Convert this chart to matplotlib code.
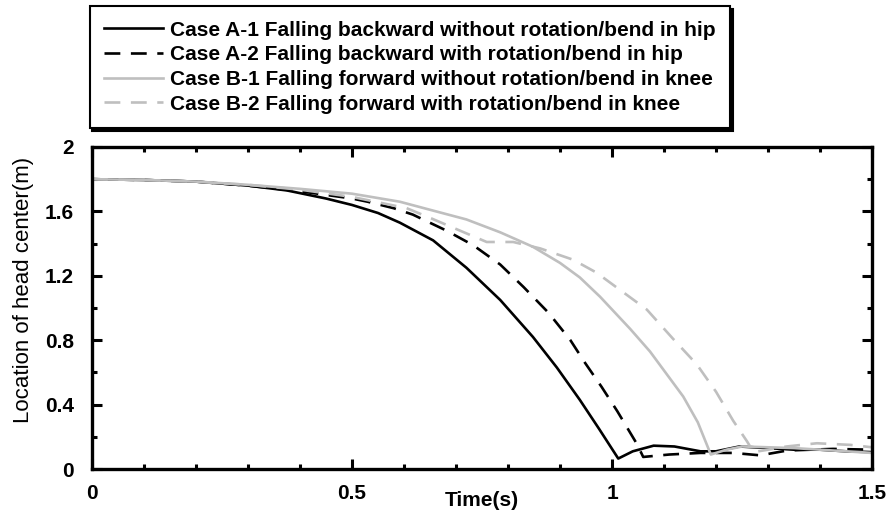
import matplotlib
matplotlib.use("Agg")
import matplotlib.pyplot as plt
from matplotlib.ticker import MultipleLocator

plt.rcParams['font.family'] = ['Liberation Sans', 'DejaVu Sans']

# Case A-1: falling backward without rotation/bend in hip
t_a1 = [0, 0.1, 0.2, 0.3, 0.375, 0.45, 0.5, 0.55, 0.592, 0.656, 0.72, 0.785,
        0.848, 0.894, 0.938, 0.975, 1.012, 1.04, 1.08, 1.12, 1.17, 1.2, 1.245,
        1.3, 1.35, 1.4, 1.45, 1.5]
y_a1 = [1.80, 1.795, 1.785, 1.76, 1.73, 1.68, 1.64, 1.59, 1.53, 1.42, 1.25, 1.05,
        0.82, 0.63, 0.43, 0.25, 0.065, 0.11, 0.145, 0.14, 0.11, 0.11, 0.14,
        0.13, 0.12, 0.12, 0.11, 0.105]

# Case A-2: falling backward with rotation/bend in hip
t_a2 = [0, 0.1, 0.2, 0.3, 0.4, 0.5, 0.53, 0.58, 0.617, 0.682, 0.733, 0.785, 0.83,
        0.878, 0.92, 0.948, 0.98, 1.01, 1.048, 1.06, 1.11, 1.17, 1.233, 1.285,
        1.337, 1.425, 1.5]
y_a2 = [1.80, 1.795, 1.785, 1.76, 1.725, 1.68, 1.66, 1.62, 1.58, 1.48, 1.39, 1.27,
        1.13, 0.97, 0.80, 0.66, 0.51, 0.36, 0.155, 0.075, 0.09, 0.10, 0.10, 0.085,
        0.115, 0.125, 0.12]

# Case B-1: falling forward without rotation/bend in knee
t_b1 = [0, 0.1, 0.2, 0.3, 0.4, 0.5, 0.592, 0.65, 0.72, 0.785, 0.848, 0.9, 0.938,
        0.977, 1.035, 1.073, 1.137, 1.165, 1.19, 1.22, 1.25, 1.3, 1.35, 1.4,
        1.45, 1.5]
y_b1 = [1.80, 1.795, 1.785, 1.765, 1.74, 1.71, 1.66, 1.61, 1.55, 1.47, 1.38, 1.28,
        1.19, 1.07, 0.87, 0.73, 0.45, 0.29, 0.09, 0.12, 0.14, 0.135, 0.13, 0.12,
        0.11, 0.10]

# Case B-2: falling forward with rotation/bend in knee
t_b2 = [0, 0.1, 0.2, 0.3, 0.4, 0.5, 0.605, 0.65, 0.708, 0.759, 0.81, 0.862, 0.925,
        0.97, 1.067, 1.117, 1.163, 1.2, 1.233, 1.26, 1.272, 1.3, 1.336, 1.394,
        1.458, 1.5]
y_b2 = [1.80, 1.795, 1.785, 1.765, 1.735, 1.69, 1.62, 1.56, 1.48, 1.41, 1.41, 1.37,
        1.30, 1.22, 0.99, 0.81, 0.65, 0.48, 0.30, 0.17, 0.105, 0.12, 0.14, 0.16,
        0.15, 0.135]

labels = [
    "Case A-1 Falling backward without rotation/bend in hip",
    "Case A-2 Falling backward with rotation/bend in hip",
    "Case B-1 Falling forward without rotation/bend in knee",
    "Case B-2 Falling forward with rotation/bend in knee",
]
x_ticks = [0, 0.5, 1, 1.5]
x_ticklabels = ["0", "0.5", "1", "1.5"]
y_ticks = [0, 0.4, 0.8, 1.2, 1.6, 2]
y_ticklabels = ["0", "0.4", "0.8", "1.2", "1.6", "2"]

GRAY = "#bfbfbf"
FS = 15
fig = plt.figure(figsize=(8.88, 5.17), dpi=100)
ax = fig.add_axes([0.1036, 0.0928, 0.8784, 0.6229])

lw = 1.9
ax.plot(t_a1, y_a1, color="black", lw=lw, label=labels[0])
ax.plot(t_a2, y_a2, color="black", lw=lw, dashes=(6, 4), label=labels[1])
ax.plot(t_b1, y_b1, color=GRAY, lw=lw, label=labels[2])
ax.plot(t_b2, y_b2, color=GRAY, lw=lw, dashes=(6, 4), label=labels[3])

ax.set_xlim(0, 1.5)
ax.set_ylim(0, 2)
ax.set_xticks(x_ticks)
ax.set_xticklabels(x_ticklabels)
ax.set_yticks(y_ticks)
ax.set_yticklabels(y_ticklabels)
ax.xaxis.set_minor_locator(MultipleLocator(0.1))
ax.yaxis.set_minor_locator(MultipleLocator(0.2))
ax.tick_params(which="both", direction="in", top=True, right=True, width=2.2)
ax.tick_params(which="major", length=7.5)
ax.tick_params(which="minor", length=3.8)
ax.tick_params(axis="x", which="major", pad=11, labelsize=FS)
ax.tick_params(axis="y", which="major", pad=13, labelsize=FS)
for lab in ax.get_xticklabels() + ax.get_yticklabels():
    lab.set_fontweight("bold")
for s in ax.spines.values():
    s.set_linewidth(2.4)

ax.set_xlabel("Time(s)", fontsize=FS, fontweight="bold", va="center")
ax.xaxis.set_label_coords(0.5, -0.098)
ax.set_ylabel("Location of head center(m)", fontsize=16, va="center")
ax.yaxis.set_label_coords(-0.088, 0.556)

leg = fig.legend(loc="upper left", bbox_to_anchor=(0.101, 0.988), frameon=True,
                 fancybox=False, shadow={'color': 'black', 'alpha': 1.0},
                 edgecolor="black", framealpha=1, handlelength=2.8,
                 prop={'weight': 'bold', 'size': FS}, borderpad=0.7,
                 labelspacing=0.27, handletextpad=0.35, borderaxespad=0)
leg.get_frame().set_linewidth(1.5)

fig.savefig("out.png", dpi=100)
